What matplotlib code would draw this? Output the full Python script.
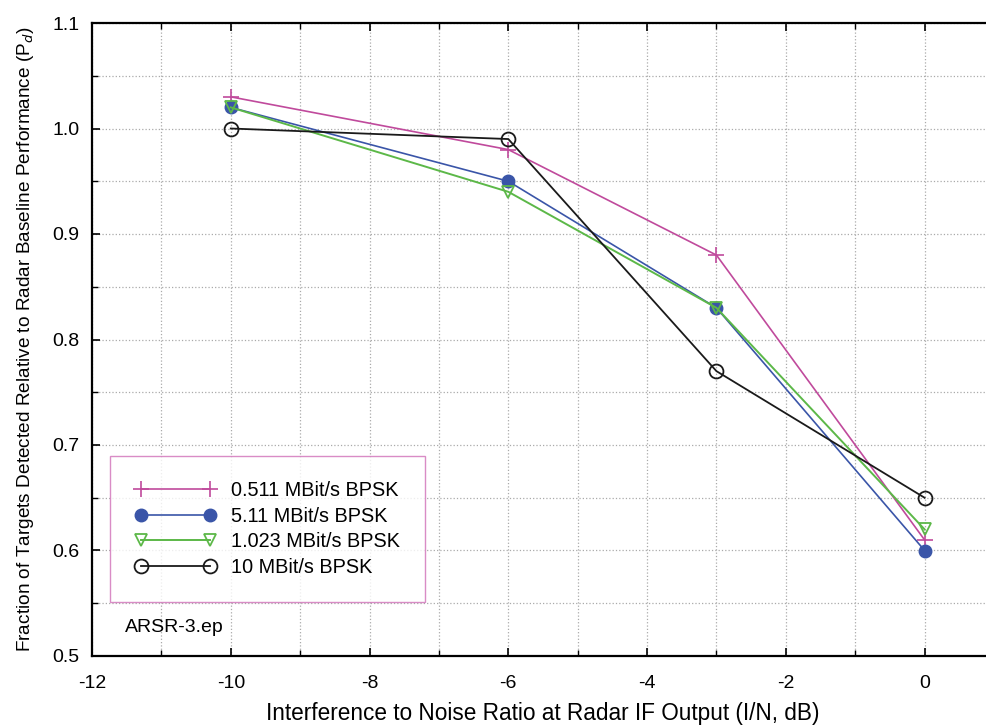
import matplotlib
matplotlib.use("Agg")
import matplotlib.pyplot as plt
from matplotlib.ticker import MultipleLocator, FormatStrFormatter

# -------- DATA --------
in_ratio = [-10, -6, -3, 0]
pd_0511 = [1.03, 0.98, 0.88, 0.61]
pd_511 = [1.02, 0.95, 0.83, 0.60]
pd_1023 = [1.02, 0.94, 0.83, 0.62]
pd_10 = [1.00, 0.99, 0.77, 0.65]

labels = ["0.511 MBit/s BPSK", "5.11 MBit/s BPSK",
          "1.023 MBit/s BPSK", "10 MBit/s BPSK"]

plt.rcParams["font.family"] = ["Liberation Sans", "DejaVu Sans"]
plt.rcParams["axes.unicode_minus"] = False

fig = plt.figure(figsize=(9.86, 7.26), dpi=100)
W, H = 986, 726
# axes: left 92px, bottom spine 656px, top 23px; right edge runs off the image
ax = fig.add_axes([92 / W, (H - 656) / H, (994 - 92) / W, (656 - 23) / H])

ax.plot(in_ratio, pd_0511, color="#c04a9c", marker="+", ms=12, mew=1.2, lw=1.2,
        label=labels[0])
ax.plot(in_ratio, pd_511, color="#3a55a8", marker="o", ms=9, lw=1.2,
        label=labels[1])
ax.plot(in_ratio, pd_1023, color="#5cb848", marker="v", ms=9, mfc="none",
        mew=1.3, lw=1.4, label=labels[2])
ax.plot(in_ratio, pd_10, color="#1a1a1a", marker="o", ms=10, mfc="none",
        mew=1.3, lw=1.3, label=labels[3])

ax.set_xlim(-12, 1)
ax.set_ylim(0.5, 1.1)
ax.xaxis.set_major_locator(MultipleLocator(2))
ax.xaxis.set_minor_locator(MultipleLocator(1))
ax.yaxis.set_major_locator(MultipleLocator(0.1))
ax.yaxis.set_minor_locator(MultipleLocator(0.05))
ax.yaxis.set_major_formatter(FormatStrFormatter("%.1f"))

ax.tick_params(which="both", direction="in", top=True, right=False,
               labelsize=14)
ax.tick_params(axis="x", which="major", pad=14)
ax.tick_params(axis="y", which="major", pad=9)
ax.tick_params(which="major", length=6, width=1.2)
ax.tick_params(which="minor", length=4, width=1.0)
ax.grid(which="both", color="#aaaaaa", linestyle=":", linewidth=0.9)
ax.set_axisbelow(True)

for side in ["left", "bottom", "top"]:
    ax.spines[side].set_linewidth(1.6)
ax.spines["right"].set_visible(False)

ax.set_xlabel("Interference to Noise Ratio at Radar IF Output (I/N, dB)",
              fontsize=16.3, labelpad=7)
ax.set_ylabel("Fraction of Targets Detected Relative to Radar Baseline "
              "Performance (P$_{d}$)", fontsize=13.7, labelpad=12)

leg = ax.legend(loc="lower left", bbox_to_anchor=((110 - 92) / 902, (656 - 602) / 633),
                fontsize=14.3, numpoints=2, handlelength=4.1, handletextpad=0.75,
                frameon=True, fancybox=False, borderpad=1.25, labelspacing=0.34,
                borderaxespad=0)
leg.get_frame().set_edgecolor("#d070b8")
leg.get_frame().set_linewidth(1.0)

ax.text(-11.53, 0.523, "ARSR-3.ep", fontsize=14)

fig.savefig("out.png", dpi=100)
